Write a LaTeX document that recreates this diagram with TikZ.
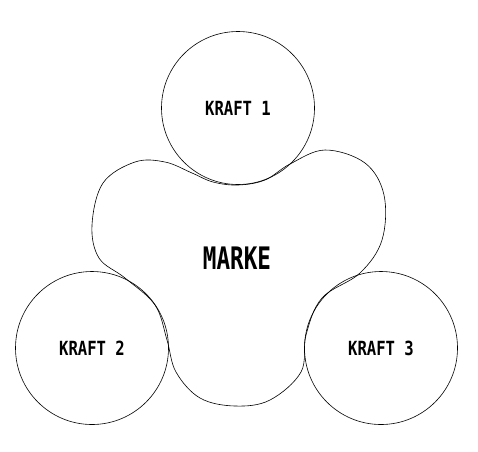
\documentclass[tikz,border=0pt]{standalone}
\usepackage{fontspec}
\usepackage{graphicx}
\newfontfamily\labelfont{DejaVu Sans Mono Bold}
\tikzset{
  kraft/.style={draw, circle, line width=0.6pt, minimum size=153pt, inner sep=0pt,
    font=\labelfont\fontsize{19.5}{19.5}\selectfont},
  blobline/.style={draw, line width=0.6pt},
  marke/.style={inner sep=0pt, font=\labelfont\fontsize{31}{31}\selectfont}
}
\begin{document}
\begin{tikzpicture}[x=1pt,y=-1pt]
\useasboundingbox (0,0) rectangle (478,451);
\draw[blobline] plot[smooth cycle, tension=0.6] coordinates {
  (238,185) (265,180) (290,164) (325,150) (365,163) (384,195) (382,240) (360,273)
  (322,298) (306,335) (301,372) (270,400) (235,406) (200,398) (176,372)
  (167,340) (155,305) (125,278) (99,258) (92,225) (103,183) (135,162) (165,162)
  (192,173) (213,182)};
\node[kraft] (k1) at (238,108) {\scalebox{0.8}[1]{KRAFT 1}};
\node[kraft] (k2) at (92,348) {\scalebox{0.8}[1]{KRAFT 2}};
\node[kraft] (k3) at (381,348) {\scalebox{0.8}[1]{KRAFT 3}};
\node[marke] (m) at (237,258) {\scalebox{0.73}[1]{MARKE}};
\end{tikzpicture}
\end{document}
